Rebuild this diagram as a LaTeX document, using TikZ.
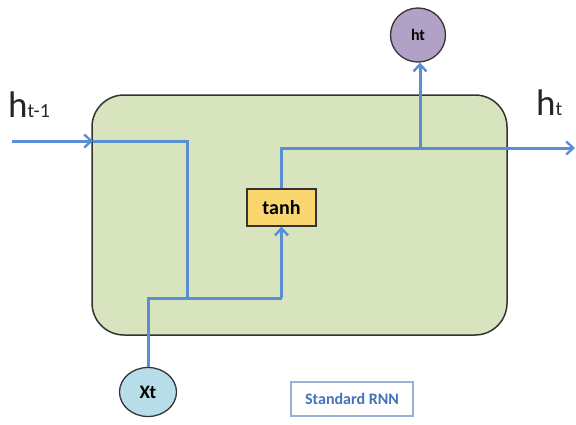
\documentclass[tikz,border=0pt]{standalone}
\usepackage{fontspec}
\setmainfont{Carlito}
\usetikzlibrary{arrows.meta,shapes.geometric}
\definecolor{cellfill}{RGB}{215,228,189}
\definecolor{flow}{RGB}{88,142,212}
\definecolor{tanhfill}{RGB}{250,214,110}
\definecolor{htfill}{RGB}{178,161,199}
\definecolor{xtfill}{RGB}{183,222,232}
\definecolor{rnnborder}{RGB}{149,179,215}
\definecolor{rnntext}{RGB}{68,114,186}
\tikzset{
  flowline/.style={draw=flow,line width=3pt},
  flowarrow/.style={flowline,-{Straight Barb[length=7pt,width=13pt,line width=2.4pt]}},
  cell/.style={draw=black!80,fill=cellfill,line width=1.5pt,rounded corners=32pt,minimum width=415pt,minimum height=240pt,inner sep=0pt},
  tanhbox/.style={draw=black!80,fill=tanhfill,line width=1.3pt,minimum width=69pt,minimum height=37pt,inner sep=0pt,font=\fontsize{20}{20}\selectfont\bfseries},
  circ/.style={ellipse,draw=black!80,line width=1.3pt,inner sep=0pt},
  biglabel/.style={font=\fontsize{37}{37}\selectfont,text=black!85,inner sep=0pt}
}
\begin{document}
\begin{tikzpicture}[x=1pt,y=-1pt]
\useasboundingbox (0,0) rectangle (576,424);
\node[cell] (cell) at (299.5,215) {};
\node[tanhbox] (tanh) at (281.5,207.5) {tanh};
\node[circ,fill=htfill,minimum width=55pt,minimum height=54pt,font=\fontsize{16}{16}\selectfont\bfseries] (ht) at (418,35) {ht};
\node[circ,fill=xtfill,minimum width=57pt,minimum height=49pt,font=\fontsize{19}{19}\selectfont\bfseries] (xt) at (148,392) {Xt};
\node[draw=rnnborder,line width=1.3pt,minimum width=122pt,minimum height=34pt,text=rnntext,font=\fontsize{16}{16}\selectfont\bfseries] (rnn) at (352,399) {Standard RNN};
\node[biglabel,anchor=base west] (hprev) at (8,117) {h{\fontsize{20}{20}\selectfont t-1}};
\node[biglabel,anchor=base west] (hnext) at (536,115) {h{\fontsize{20}{20}\selectfont t}};
\coordinate (in) at (12,141);
\coordinate (edge) at (93,141);
\coordinate (c1) at (187,141);
\coordinate (c2) at (187,298);
\coordinate (j) at (148,298);
\coordinate (c3) at (281.5,298);
\coordinate (c4) at (281.5,148);
\coordinate (br) at (420,148);
\coordinate (out) at (575,148);
\draw[flowarrow] (in) -- (edge);
\draw[flowline] (edge) -- (c1) -- (c2);
\draw[flowline] (xt.north) -- (j) -- (c3);
\draw[flowarrow] (c3) -- (tanh.south);
\draw[flowline] (tanh.north) -- (c4) -- (br);
\draw[flowarrow] (br) -- (out);
\draw[flowarrow] (br) -- (ht.south -| br);
\end{tikzpicture}
\end{document}
